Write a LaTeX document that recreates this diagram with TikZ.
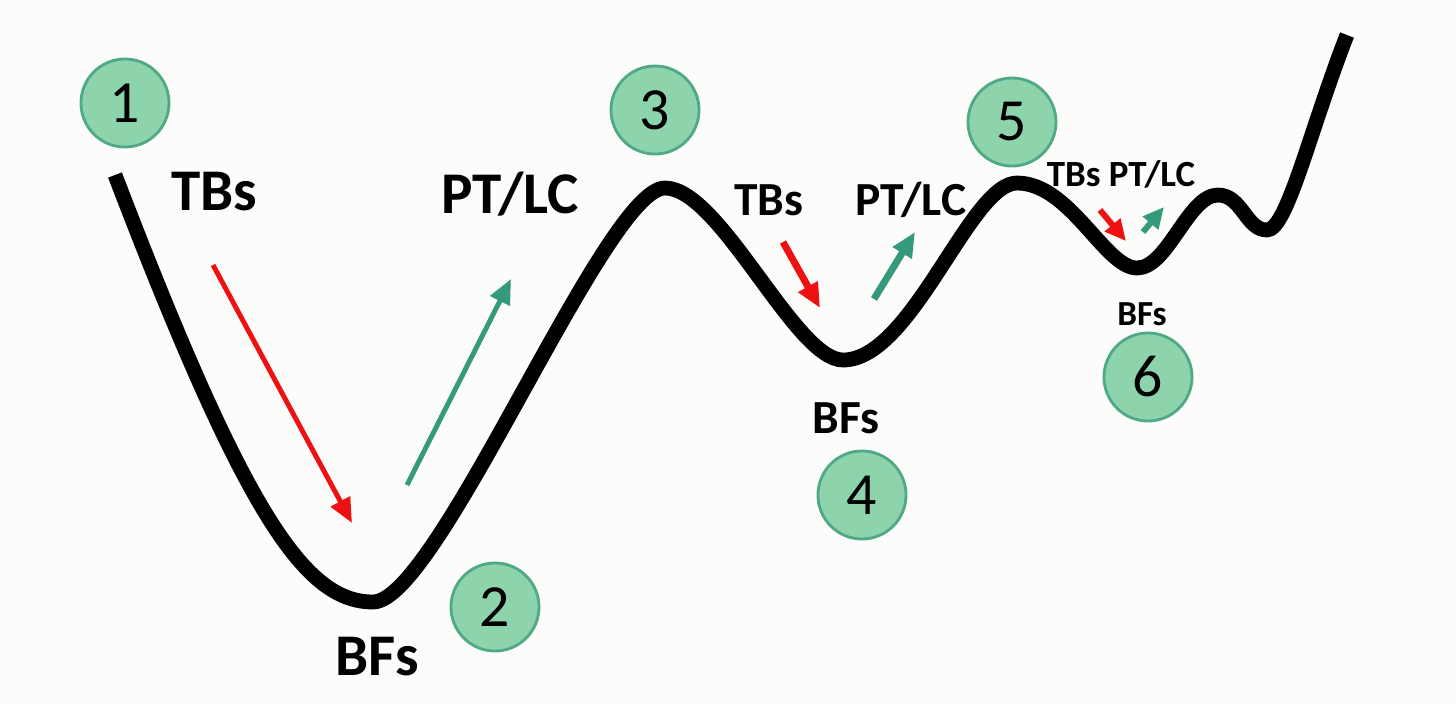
\documentclass[tikz,border=0pt]{standalone}
\usepackage{fontspec}
\setmainfont{Carlito}
\usetikzlibrary{arrows.meta}
\definecolor{barrierred}{HTML}{EE1111}
\definecolor{relaxgreen}{HTML}{35997B}
\definecolor{stagefill}{HTML}{8DD3AB}
\definecolor{stageedge}{HTML}{4FA886}
\definecolor{paper}{HTML}{FCFCFA}
\tikzset{
  wellcurve/.style={line width=4.2pt, line join=round},
  downarrow/.style={-{Triangle[length=7pt, width=6pt]}, line width=1.4pt, barrierred},
  uparrow/.style={-{Triangle[length=7pt, width=6pt]}, line width=1.4pt, relaxgreen},
  stagenode/.style={circle, draw=stageedge, fill=stagefill, line width=0.8pt, minimum size=0.88cm, inner sep=0pt, font=\fontsize{17}{17}\selectfont},
  biglabel/.style={font=\bfseries\fontsize{16.8}{17}\selectfont},
  midlabel/.style={font=\bfseries\fontsize{13.5}{14}\selectfont},
  smalllabel/.style={font=\bfseries\fontsize{10.5}{11}\selectfont}
}

\begin{document}
\begin{tikzpicture}[x=0.01cm, y=-0.01cm]
  \fill[paper] (0,0) rectangle (1456,705);
  \useasboundingbox (0,0) rectangle (1456,705);
  % energy landscape: wells and tops
  \coordinate (top0) at (115,175);
  \coordinate (well1) at (373,602);
  \coordinate (top1) at (665,188);
  \coordinate (well2) at (843,360);
  \coordinate (top2) at (1017,183);
  \coordinate (well3) at (1137,268);
  \coordinate (top3) at (1218,195);
  \coordinate (well4) at (1267,230);
  \coordinate (top4) at (1347,35);
  \draw[wellcurve] (top0)
    .. controls (245,515) and (305,602) .. (well1)
    .. controls (438,602) and (605,188) .. (top1)
    .. controls (720,188) and (795,360) .. (well2)
    .. controls (912,360) and (970,183) .. (top2)
    .. controls (1070,183) and (1105,268) .. (well3)
    .. controls (1168,268) and (1188,195) .. (top3)
    .. controls (1242,195) and (1246,230) .. (well4)
    .. controls (1287,230) and (1310,130) .. (top4);
  % stage markers
  \node[stagenode] (s1) at (125,103) {1};
  \node[stagenode] (s2) at (495,607) {2};
  \node[stagenode] (s3) at (655,110) {3};
  \node[stagenode] (s4) at (862,495) {4};
  \node[stagenode] (s5) at (1012,122) {5};
  \node[stagenode] (s6) at (1148,377) {6};
  % labels
  \node[biglabel] (tb1) at (214,192) {TBs};
  \node[biglabel] (pl1) at (510,194) {PT/LC};
  \node[biglabel] (bf1) at (377,657) {BFs};
  \node[midlabel] (tb2) at (769,200) {TBs};
  \node[midlabel] (pl2) at (911,200) {PT/LC};
  \node[midlabel] (bf2) at (846,418) {BFs};
  \node[smalllabel] (tp3) at (1121,174) {TBs PT/LC};
  \node[smalllabel, font=\bfseries\fontsize{10}{11}\selectfont] (bf3) at (1142,314) {BFs};
  % arrows
  \coordinate (r1a) at (213,265); \coordinate (r1b) at (352,523);
  \coordinate (g1a) at (407,485); \coordinate (g1b) at (511,279);
  \coordinate (r2a) at (783,242); \coordinate (r2b) at (820,308);
  \coordinate (g2a) at (874,299); \coordinate (g2b) at (915,232);
  \coordinate (r3a) at (1100,210); \coordinate (r3b) at (1126,241);
  \coordinate (g3a) at (1143,232); \coordinate (g3b) at (1164,207);
  \draw[downarrow] (r1a) -- (r1b);
  \draw[uparrow] (g1a) -- (g1b);
  \draw[downarrow, line width=2pt] (r2a) -- (r2b);
  \draw[uparrow, line width=2pt] (g2a) -- (g2b);
  \draw[downarrow, line width=1.7pt, -{Triangle[length=6pt, width=5.5pt]}] (r3a) -- (r3b);
  \draw[uparrow, line width=1.7pt, -{Triangle[length=6pt, width=5.5pt]}] (g3a) -- (g3b);
\end{tikzpicture}
\end{document}
